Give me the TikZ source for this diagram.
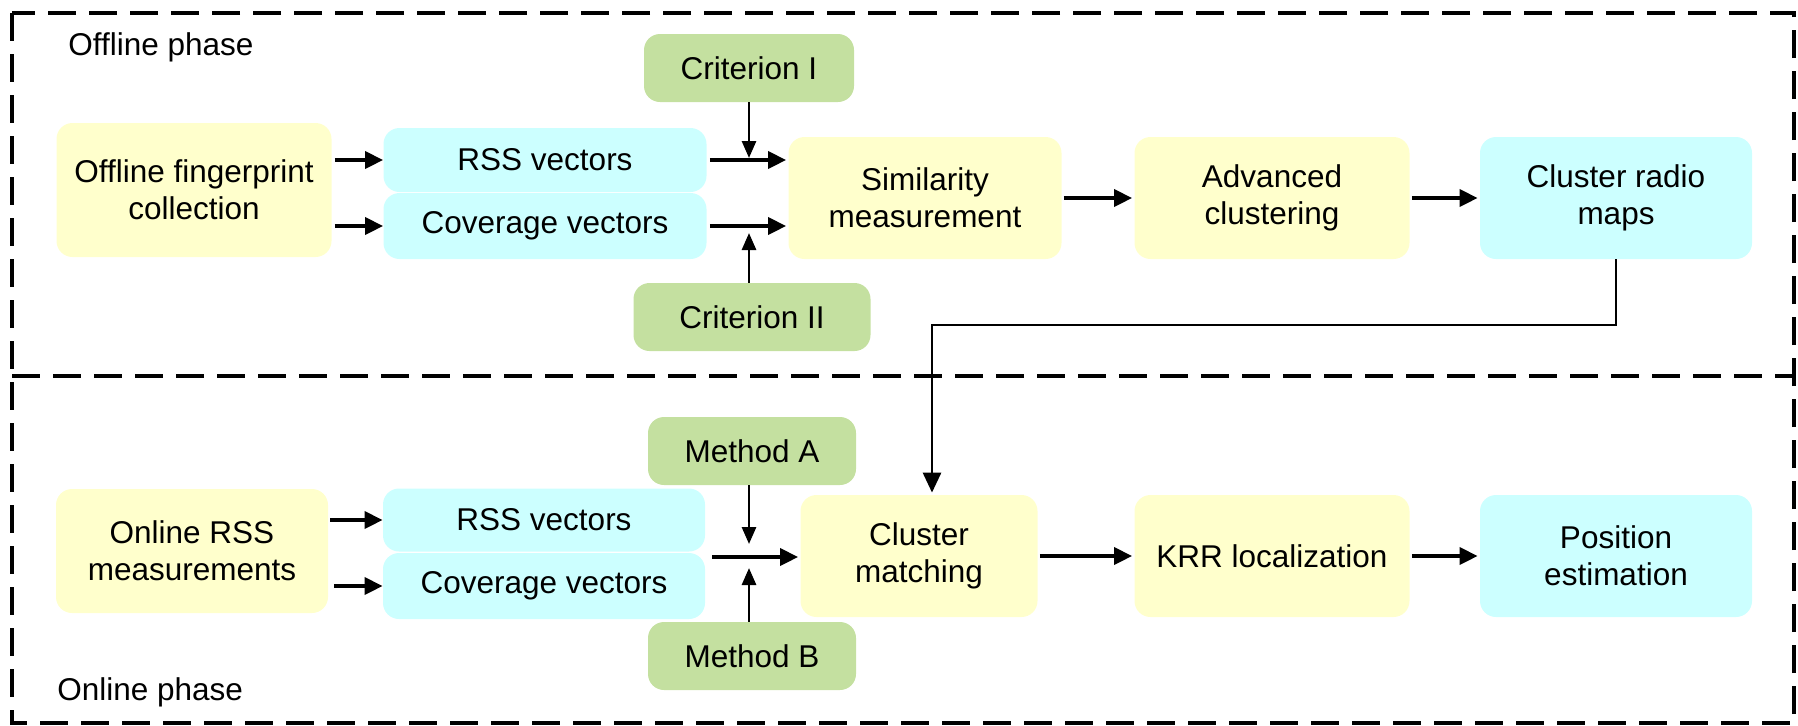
\documentclass[tikz,border=0pt]{standalone}
\usepackage{fontspec}
\setmainfont{Liberation Sans}
\usetikzlibrary{arrows.meta}
\definecolor{boxyellow}{HTML}{FFFFCC}
\definecolor{boxcyan}{HTML}{CCFFFF}
\definecolor{boxgreen}{HTML}{C4E0A0}
\begin{document}
\begin{tikzpicture}[x=0.5pt,y=-0.5pt,
  box/.style={rounded corners=8pt, inner sep=0pt, align=center, font=\fontsize{15.75}{18.5}\selectfont},
  ybox/.style={box, fill=boxyellow},
  cbox/.style={box, fill=boxcyan},
  gbox/.style={box, fill=boxgreen},
  harrow/.style={line width=1.8pt, -{Triangle[length=9pt,width=8.5pt]}},
  varrow/.style={line width=1.4pt, -{Triangle[length=8.5pt,width=7pt]}},
  farrow/.style={line width=1.4pt, -{Triangle[length=10pt,width=9pt]}},
  phase/.style={dash pattern=on 14pt off 6.5pt, line width=1.6pt},
  lbl/.style={anchor=west, inner sep=0pt, font=\fontsize{15.75}{18.5}\selectfont}
]
\useasboundingbox (0,0) rectangle (1798,725);
\draw[phase] (12,13) rectangle (1794,723);
\draw[phase] (12,376) -- (1794,376);

\node[lbl] (offlbl) at (68,47) {Offline phase};
\node[lbl] (onlbl) at (57,692) {Online phase};

% offline row
\node[ybox, minimum width=137.5pt, minimum height=67pt] (off) at (194,190) {Offline fingerprint\\collection};
\node[cbox, minimum width=161.5pt, minimum height=32pt] (rss1) at (545,160) {RSS vectors};
\node[cbox, minimum width=161.5pt, minimum height=33pt] (cov1) at (545,226) {Coverage vectors};
\node[gbox, minimum width=105pt, minimum height=34pt] (c1) at (749,68) {Criterion I};
\node[gbox, minimum width=118.5pt, minimum height=34pt] (c2) at (752,317) {Criterion II};
\node[ybox, minimum width=136.5pt, minimum height=61pt] (sim) at (925,198) {Similarity\\measurement};
\node[ybox, minimum width=137.5pt, minimum height=61pt] (adv) at (1272,198) {Advanced\\clustering};
\node[cbox, minimum width=136pt, minimum height=61pt] (crm) at (1616,198) {Cluster radio\\maps};

% online row
\node[ybox, minimum width=136pt, minimum height=62pt] (onl) at (192,551) {Online RSS\\measurements};
\node[cbox, minimum width=161pt, minimum height=31.5pt] (rss2) at (544,520) {RSS vectors};
\node[cbox, minimum width=161pt, minimum height=33pt] (cov2) at (544,586) {Coverage vectors};
\node[gbox, minimum width=104pt, minimum height=34pt] (ma) at (752,451) {Method A};
\node[gbox, minimum width=104pt, minimum height=34pt] (mb) at (752,656) {Method B};
\node[ybox, minimum width=118.5pt, minimum height=61pt] (cm) at (919,556) {Cluster\\matching};
\node[ybox, minimum width=137.5pt, minimum height=61pt] (krr) at (1272,556) {KRR localization};
\node[cbox, minimum width=136pt, minimum height=61pt] (pos) at (1616,556) {Position\\estimation};

% coordinates
\coordinate (j1) at (749,158);
\coordinate (j2) at (749,233);
\coordinate (mg) at (712,557);
\coordinate (j3) at (749,544);
\coordinate (j4) at (749,568);
\coordinate (jog) at (932,325);

% offline arrows
\draw[harrow] ([xshift=1.5pt]off.east |- rss1.east) -- (rss1.west);
\draw[harrow] ([xshift=1.5pt]off.east |- cov1.east) -- (cov1.west);
\draw[harrow] ([xshift=1.5pt]rss1.east) -- ([xshift=-1pt]rss1.east -| sim.west);
\draw[harrow] ([xshift=1.5pt]cov1.east) -- ([xshift=-1pt]cov1.east -| sim.west);
\draw[varrow] (c1.south) -- (j1);
\draw[varrow] (j2 |- c2.north) -- (j2);
\draw[harrow] ([xshift=1pt]sim.east) -- ([xshift=-1pt]adv.west);
\draw[harrow] ([xshift=1pt]adv.east) -- ([xshift=-1pt]crm.west);
\draw[farrow] (crm.south) |- (jog) -- ([yshift=1pt]jog |- cm.north);

% online arrows
\draw[harrow] ([xshift=1pt]onl.east |- rss2.east) -- (rss2.west);
\draw[harrow] ([xshift=3pt]onl.east |- cov2.east) -- (cov2.west);
\draw[harrow] (mg) -- ([xshift=-1pt]mg -| cm.west);
\draw[varrow] (j3 |- ma.south) -- (j3);
\draw[varrow] (j4 |- mb.north) -- (j4);
\draw[harrow] ([xshift=1pt]cm.east) -- ([xshift=-1pt]krr.west);
\draw[harrow] ([xshift=1pt]krr.east) -- ([xshift=-1pt]pos.west);
\end{tikzpicture}
\end{document}
